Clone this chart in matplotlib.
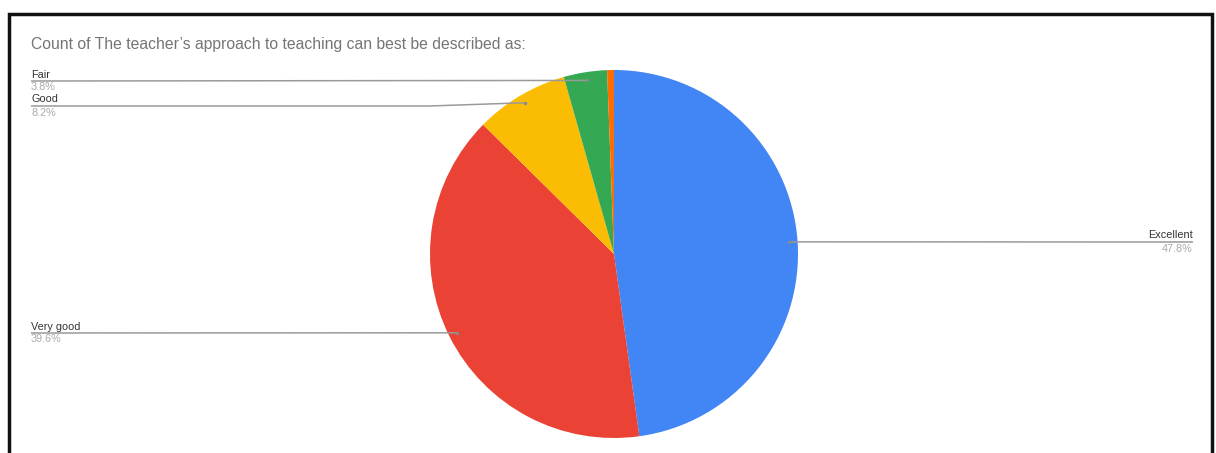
import matplotlib.pyplot as plt
import numpy as np

# data (percent of responses)
categories = ["Excellent", "Very good", "Good", "Fair", "Poor"]
shares = [47.8, 39.6, 8.2, 3.8, 0.6]
colors = ["#4285F4", "#EA4335", "#FBBC04", "#34A853", "#FF6D01"]
pct_labels = ["47.8%", "39.6%", "8.2%", "3.8%", ""]

title = "Count of The teacher\u2019s approach to teaching can best be described as:"

W, H = 1216, 453

plt.rcParams["font.family"] = ["Liberation Sans", "DejaVu Sans"]


def main():
    fig = plt.figure(figsize=(W / 100, H / 100), dpi=100)
    fig.patch.set_facecolor("white")

    # pie axes: centre (614, 254) px, radius 184 px
    cx, cy, r = 614, 254, 184
    ax = fig.add_axes([(cx - r) / W, (H - cy - r) / H, 2 * r / W, 2 * r / H])
    wedges, _ = ax.pie(
        shares,
        colors=colors,
        startangle=90,
        counterclock=False,
        wedgeprops=dict(linewidth=0),
    )
    ax.set_xlim(-1, 1)
    ax.set_ylim(-1, 1)
    ax.set_aspect("equal")
    ax.axis("off")

    # overlay in pixel coordinates for frame, title and leader lines
    bg = fig.add_axes([0, 0, 1, 1], zorder=3)
    bg.set_xlim(0, W)
    bg.set_ylim(H, 0)
    bg.axis("off")
    bg.patch.set_alpha(0)

    # screenshot frame
    bg.plot([9, 9, 1212, 1212], [H + 5, 14, 14, H + 5], color="#111111", lw=2.5,
            solid_joinstyle="miter")

    bg.text(31, 45, title, fontsize=11.3, color="#757575", va="center", ha="left")

    def anchor(w):
        mid = np.deg2rad((w.theta1 + w.theta2) / 2)
        p = ax.transData.transform((0.955 * np.cos(mid), 0.955 * np.sin(mid)))
        return bg.transData.inverted().transform(p)

    # label placement: (text x, line y, side)
    place = {
        "Excellent": (1193, 242, "right"),
        "Very good": (31, 333, "left"),
        "Good": (31, 106, "left"),
        "Fair": (31, 81, "left"),
    }
    for w, name, pct in zip(wedges, categories, pct_labels):
        if name not in place:
            continue
        tx, ly, side = place[name]
        axp, ayp = anchor(w)
        if abs(ayp - ly) > 1.5:
            # slight bend close to the slice
            bend = axp - 95 if side == "left" else axp + 95
            xs, ys = [tx, bend, axp], [ly, ly, ayp]
        else:
            xs, ys = [tx, axp], [ly, ayp]
        bg.plot(xs, ys, color="#9a9a9a", lw=1.1, solid_capstyle="butt")
        bg.plot(axp, ayp, "o", color="#8a8a8a", ms=2.5, mew=0)
        bg.text(tx, ly - 1.5, name, fontsize=7.8, color="#333333", ha=side, va="bottom")
        bg.text(tx, ly + 1.5, pct, fontsize=7.8, color="#aaaaaa", ha=side, va="top")

    fig.savefig("out.png", dpi=100, facecolor="white")


if __name__ == "__main__":
    main()
